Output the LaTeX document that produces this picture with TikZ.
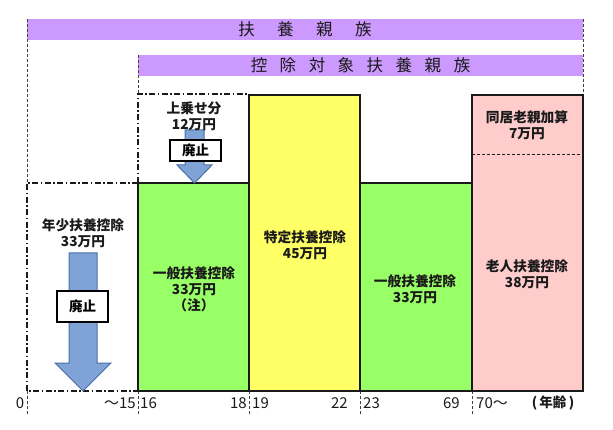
\documentclass[tikz,border=0pt]{standalone}
\usepackage{fontspec}
\setmainfont{Noto Sans CJK JP}
\definecolor{barpurple}{HTML}{CC99FF}
\definecolor{boxgreen}{HTML}{99FF66}
\definecolor{boxyellow}{HTML}{FFFF66}
\definecolor{boxpink}{HTML}{FFCCCC}
\definecolor{arrowfill}{HTML}{7FA3D6}
\definecolor{arrowline}{HTML}{4A6FA5}
\definecolor{inkdark}{HTML}{1A1A1A}
\tikzset{
  guide/.style={densely dashed, line width=0.6pt, black!75},
  dashdot/.style={dash pattern=on 6pt off 2.5pt on 1.5pt off 2.5pt, line width=1.3pt, inkdark},
  agebox/.style={draw=inkdark, line width=1.2pt},
  blockarrow/.style={fill=arrowfill, draw=arrowline, line width=1pt, line join=miter},
  stopbox/.style={draw=black, fill=white, line width=1.8pt, font=\fontsize{13.5}{15}\selectfont\bfseries, inner sep=0pt},
  lbl/.style={align=center, font=\fontsize{13.7}{16}\selectfont\bfseries, inner sep=0pt, text=inkdark},
  agelbl/.style={font=\fontsize{15}{16}\selectfont, inner sep=0pt, text=inkdark},
  titlelbl/.style={font=\fontsize{16.5}{18}\selectfont, inner sep=0pt, text=inkdark}
}
\begin{document}
\begin{tikzpicture}[x=1pt,y=-1pt]
\useasboundingbox (0,0) rectangle (613,430);
% title bars
\fill[barpurple] (27,19) rectangle (583,40);
\fill[barpurple] (138,55) rectangle (583,76);
\node[titlelbl] (t1) at (305,29.5) {扶\hspace{22.5pt}養\hspace{22.5pt}親\hspace{22.5pt}族};
\node[titlelbl] (t2) at (360.5,65.5) {控\hspace{12.5pt}除\hspace{12.5pt}対\hspace{12.5pt}象\hspace{12.5pt}扶\hspace{12.5pt}養\hspace{12.5pt}親\hspace{12.5pt}族};
% guide lines
\draw[guide] (27,19) -- (27,183);
\draw[guide] (583,19) -- (583,95);
\draw[guide] (138,55) -- (138,94);
\foreach \gx in {27,138,249,360,472} \draw[guide] (\gx,391) -- (\gx,415);
% boxes
\draw[agebox, fill=boxgreen] (138,183) rectangle (249,391);
\draw[agebox, fill=boxyellow] (249,95) rectangle (360,391);
\draw[agebox, fill=boxgreen] (360,183) rectangle (472,391);
\draw[agebox, fill=boxpink] (472,95) rectangle (583,391);
\draw[densely dashed, line width=0.7pt, inkdark] (472,154) -- (583,154);
% abolished parts
\draw[dashdot] (138,183) -- (27,183) -- (27,391) -- (138,391);
\draw[dashdot] (138,183) -- (138,94) -- (249,94);
% arrows
\draw[blockarrow] (69,253) -- (97,253) -- (97,363) -- (111,363) -- (83,391) -- (55,363) -- (69,363) -- cycle;
\draw[blockarrow] (185,130) -- (204,130) -- (204,165) -- (212,165) -- (194.5,183) -- (177,165) -- (185,165) -- cycle;
\node[stopbox, minimum width=51pt, minimum height=31pt] (s1) at (82.5,306.5) {廃止};
\node[stopbox, minimum width=51pt, minimum height=21pt] (s2) at (195.5,150.5) {廃止};
% labels
\node[lbl] (l1) at (83,233) {年少扶養控除\\33万円};
\node[lbl] (l2) at (194,116) {上乗せ分\\12万円};
\node[lbl] (l3) at (194,289) {一般扶養控除\\33万円\\（注）};
\node[lbl] (l4) at (305,245) {特定扶養控除\\45万円};
\node[lbl] (l5) at (415,289) {一般扶養控除\\33万円};
\node[lbl] (l6) at (527,125) {同居老親加算\\7万円};
\node[lbl] (l7) at (527,274) {老人扶養控除\\38万円};
% age axis
\node[agelbl] (a0) at (20,403) {0};
\node[agelbl, anchor=east] (a15) at (136,403) {～15};
\node[agelbl, anchor=west] (a16) at (140,403) {16};
\node[agelbl, anchor=east] (a18) at (247,403) {18};
\node[agelbl, anchor=west] (a19) at (252,403) {19};
\node[agelbl, anchor=east] (a22) at (348,403) {22};
\node[agelbl, anchor=west] (a23) at (363,403) {23};
\node[agelbl, anchor=east] (a69) at (460,403) {69};
\node[agelbl, anchor=west] (a70) at (476,403) {70～};
\node[agelbl, font=\fontsize{13.5}{16}\selectfont\bfseries] (aunit) at (553,403) {(\,年齢\,)};
\end{tikzpicture}
\end{document}
